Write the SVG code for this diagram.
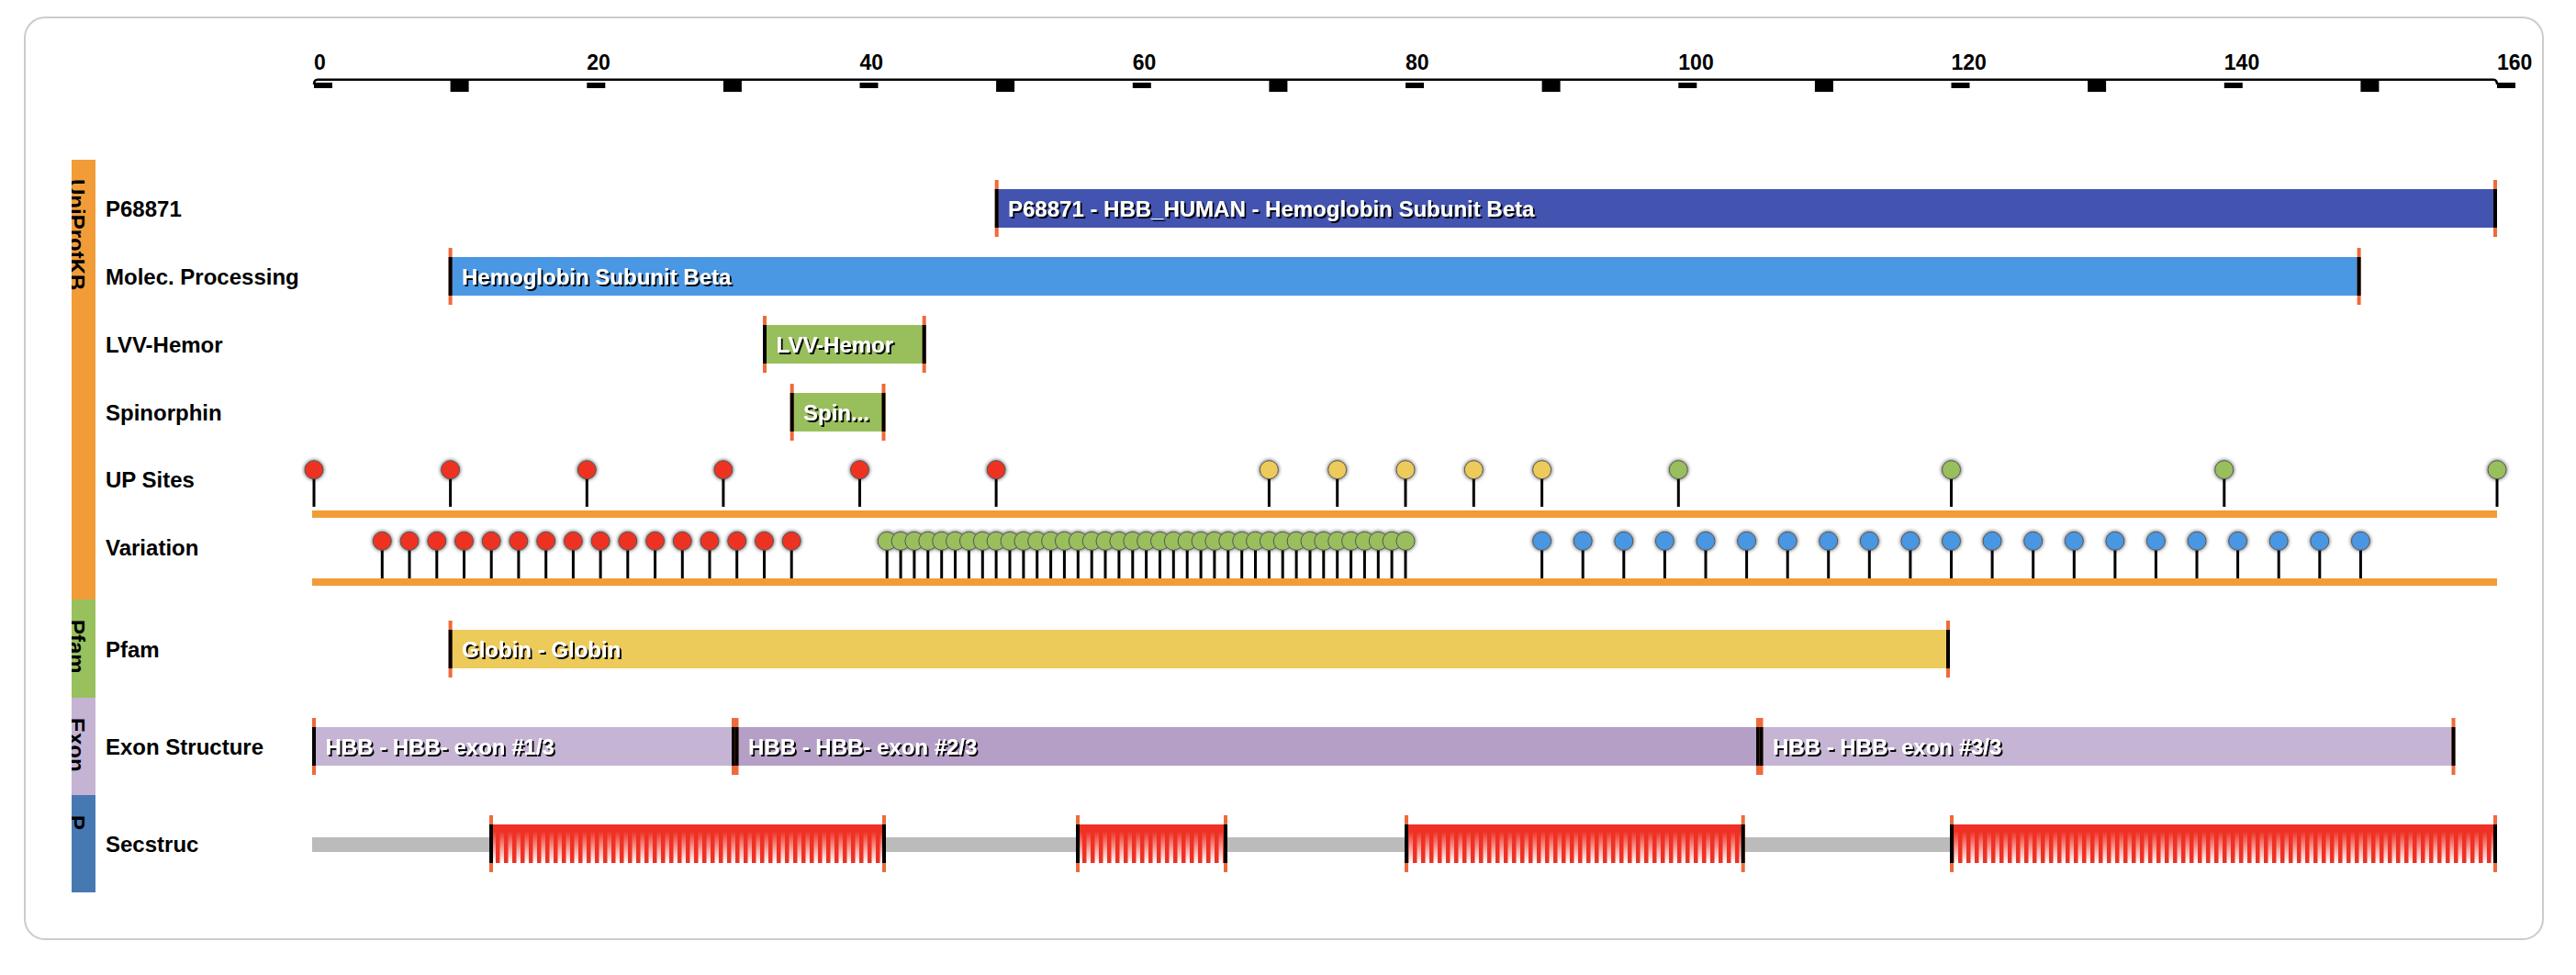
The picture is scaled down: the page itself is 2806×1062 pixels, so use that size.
<svg xmlns="http://www.w3.org/2000/svg" width="2806" height="1062" viewBox="0 0 2806 1062">
<style>
.lbl{font-family:"Liberation Sans",Arial,sans-serif;font-weight:bold;font-size:24px;fill:#000}
.ax{font-family:"Liberation Sans",Arial,sans-serif;font-weight:bold;font-size:23px;fill:#000}
.ft{font-family:"Liberation Sans",Arial,sans-serif;font-weight:bold;font-size:24px;fill:#fff;filter:url(#ts)}
.cat{font-family:"Liberation Sans",Arial,sans-serif;font-weight:bold;font-size:24px;fill:#000}
.edge{stroke:#000;stroke-width:4}
.cap{stroke:#EE6A3A;stroke-width:4}
.stick{stroke:#000;stroke-width:3}
.pin{stroke:#555;stroke-width:1;filter:url(#glow)}
.r{fill:#EE3124}.y{fill:#EDCB5A}.g{fill:#98BF5B}.b{fill:#4A97E3}
.tk{fill:#000}
</style>
<defs>
<filter id="ts" x="-5%" y="-30%" width="110%" height="160%"><feDropShadow dx="2" dy="2" stdDeviation="0.6" flood-color="#000" flood-opacity="0.95"/></filter>
<filter id="glow" x="-50%" y="-50%" width="200%" height="200%"><feDropShadow dx="0" dy="0" stdDeviation="2" flood-color="#000" flood-opacity="0.75"/></filter>
<linearGradient id="hg" x1="0" y1="0" x2="0" y2="1"><stop offset="0" stop-color="#EE3124"/><stop offset="0.18" stop-color="#EE3124"/><stop offset="1" stop-color="#FFFFFF"/></linearGradient>
<pattern id="hp" patternUnits="userSpaceOnUse" x="0" y="898" width="9" height="42"><rect width="9" height="42" fill="url(#hg)"/><rect width="4.5" height="42" fill="#EE3124"/></pattern>
<clipPath id="sb"><rect x="78" y="174" width="26" height="798"/></clipPath>
</defs>
<rect x="27" y="19" width="2743" height="1004" rx="22" fill="#fff" stroke="#ccc" stroke-width="2"/>

<g id="axis">
<path d="M342,92 Q342,86.7 346,86.7 H2716 Q2720,86.7 2720,92" fill="none" stroke="#000" stroke-width="2.5"/>
<rect class="tk" x="342" y="90" width="20" height="6"/>
<rect class="tk" x="490.6" y="87" width="20" height="13"/>
<rect class="tk" x="639.3" y="90" width="20" height="6"/>
<rect class="tk" x="787.9" y="87" width="20" height="13"/>
<rect class="tk" x="936.5" y="90" width="20" height="6"/>
<rect class="tk" x="1085.1" y="87" width="20" height="13"/>
<rect class="tk" x="1233.8" y="90" width="20" height="6"/>
<rect class="tk" x="1382.4" y="87" width="20" height="13"/>
<rect class="tk" x="1531" y="90" width="20" height="6"/>
<rect class="tk" x="1679.6" y="87" width="20" height="13"/>
<rect class="tk" x="1828.3" y="90" width="20" height="6"/>
<rect class="tk" x="1976.9" y="87" width="20" height="13"/>
<rect class="tk" x="2125.5" y="90" width="20" height="6"/>
<rect class="tk" x="2274.1" y="87" width="20" height="13"/>
<rect class="tk" x="2422.8" y="90" width="20" height="6"/>
<rect class="tk" x="2571.4" y="87" width="20" height="13"/>
<rect class="tk" x="2720" y="90" width="20" height="6"/>
<text class="ax" x="342" y="76">0</text>
<text class="ax" x="639.3" y="76">20</text>
<text class="ax" x="936.5" y="76">40</text>
<text class="ax" x="1233.8" y="76">60</text>
<text class="ax" x="1531" y="76">80</text>
<text class="ax" x="1828.3" y="76">100</text>
<text class="ax" x="2125.5" y="76">120</text>
<text class="ax" x="2422.8" y="76">140</text>
<text class="ax" x="2720" y="76">160</text>
</g>

<g id="sidebar">
<rect x="78" y="174" width="26" height="479" fill="#F29C38"/>
<rect x="78" y="653" width="26" height="107" fill="#98C05C"/>
<rect x="78" y="760" width="26" height="106" fill="#C5B3D3"/>
<rect x="78" y="866" width="26" height="106" fill="#4679B2"/>
<g clip-path="url(#sb)">
<text class="cat" transform="translate(75,195) rotate(90)">UniProtKB</text>
<text class="cat" transform="translate(75,675) rotate(90)">Pfam</text>
<text class="cat" transform="translate(75,782) rotate(90)">Exon</text>
<text class="cat" transform="translate(75,888) rotate(90)">P</text>
</g>
</g>

<g id="labels">
<text class="lbl" x="115" y="236">P68871</text>
<text class="lbl" x="115" y="310">Molec. Processing</text>
<text class="lbl" x="115" y="384">LVV-Hemor</text>
<text class="lbl" x="115" y="458">Spinorphin</text>
<text class="lbl" x="115" y="531">UP Sites</text>
<text class="lbl" x="115" y="605">Variation</text>
<text class="lbl" x="115" y="716">Pfam</text>
<text class="lbl" x="115" y="822">Exon Structure</text>
<text class="lbl" x="115" y="928">Secstruc</text>
</g>

<g id="feature-p68871">
<rect x="1085.7" y="206" width="1632.3" height="42" fill="#4254B0"/>
<line class="cap" x1="1085.7" y1="196" x2="1085.7" y2="258"/><line class="edge" x1="1085.7" y1="206" x2="1085.7" y2="248"/>
<line class="cap" x1="2718" y1="196" x2="2718" y2="258"/><line class="edge" x1="2718" y1="206" x2="2718" y2="248"/>
<text class="ft" x="1098" y="235.5">P68871 - HBB_HUMAN - Hemoglobin Subunit Beta</text>
</g>

<g id="feature-molec">
<rect x="490.6" y="280" width="2079" height="42" fill="#4A97E3"/>
<line class="cap" x1="490.6" y1="270" x2="490.6" y2="332"/><line class="edge" x1="490.6" y1="280" x2="490.6" y2="322"/>
<line class="cap" x1="2569.6" y1="270" x2="2569.6" y2="332"/><line class="edge" x1="2569.6" y1="280" x2="2569.6" y2="322"/>
<text class="ft" x="503" y="309.5">Hemoglobin Subunit Beta</text>
</g>

<g id="feature-lvv">
<rect x="833" y="354" width="173.7" height="42" fill="#98BF5B"/>
<line class="cap" x1="833" y1="344" x2="833" y2="406"/><line class="edge" x1="833" y1="354" x2="833" y2="396"/>
<line class="cap" x1="1006.7" y1="344" x2="1006.7" y2="406"/><line class="edge" x1="1006.7" y1="354" x2="1006.7" y2="396"/>
<text class="ft" x="845.5" y="383.5">LVV-Hemor</text>
</g>

<g id="feature-spin">
<rect x="862.7" y="428" width="99.8" height="42" fill="#98BF5B"/>
<line class="cap" x1="862.7" y1="418" x2="862.7" y2="480"/><line class="edge" x1="862.7" y1="428" x2="862.7" y2="470"/>
<line class="cap" x1="962.5" y1="418" x2="962.5" y2="480"/><line class="edge" x1="962.5" y1="428" x2="962.5" y2="470"/>
<text class="ft" x="875" y="457.5">Spin...</text>
</g>

<g id="track-upsites">
<rect x="340" y="556" width="2380" height="8" fill="#F29C38"/>
<g>
<line class="stick" x1="342" y1="512" x2="342" y2="552"/>
<line class="stick" x1="490.6" y1="512" x2="490.6" y2="552"/>
<line class="stick" x1="639.3" y1="512" x2="639.3" y2="552"/>
<line class="stick" x1="787.9" y1="512" x2="787.9" y2="552"/>
<line class="stick" x1="936.5" y1="512" x2="936.5" y2="552"/>
<line class="stick" x1="1085.1" y1="512" x2="1085.1" y2="552"/>
<line class="stick" x1="1382.4" y1="512" x2="1382.4" y2="552"/>
<line class="stick" x1="1456.7" y1="512" x2="1456.7" y2="552"/>
<line class="stick" x1="1531" y1="512" x2="1531" y2="552"/>
<line class="stick" x1="1605.3" y1="512" x2="1605.3" y2="552"/>
<line class="stick" x1="1679.6" y1="512" x2="1679.6" y2="552"/>
<line class="stick" x1="1828.3" y1="512" x2="1828.3" y2="552"/>
<line class="stick" x1="2125.5" y1="512" x2="2125.5" y2="552"/>
<line class="stick" x1="2422.8" y1="512" x2="2422.8" y2="552"/>
<line class="stick" x1="2720" y1="512" x2="2720" y2="552"/>
</g>
<g class="pin">
<circle class="r" cx="342" cy="511.7" r="10"/>
<circle class="r" cx="490.6" cy="511.7" r="10"/>
<circle class="r" cx="639.3" cy="511.7" r="10"/>
<circle class="r" cx="787.9" cy="511.7" r="10"/>
<circle class="r" cx="936.5" cy="511.7" r="10"/>
<circle class="r" cx="1085.1" cy="511.7" r="10"/>
<circle class="y" cx="1382.4" cy="511.7" r="10"/>
<circle class="y" cx="1456.7" cy="511.7" r="10"/>
<circle class="y" cx="1531" cy="511.7" r="10"/>
<circle class="y" cx="1605.3" cy="511.7" r="10"/>
<circle class="y" cx="1679.6" cy="511.7" r="10"/>
<circle class="g" cx="1828.3" cy="511.7" r="10"/>
<circle class="g" cx="2125.5" cy="511.7" r="10"/>
<circle class="g" cx="2422.8" cy="511.7" r="10"/>
<circle class="g" cx="2720" cy="511.7" r="10"/>
</g>
</g>

<g id="track-variation">
<rect x="340" y="630" width="2380" height="8" fill="#F29C38"/>
<g stroke="#000" stroke-width="3">
<path d="M416.3,590V630M446,590V630M475.8,590V630M505.5,590V630M535.2,590V630M564.9,590V630M594.7,590V630M624.4,590V630M654.1,590V630M683.8,590V630M713.6,590V630M743.3,590V630M773,590V630M802.7,590V630M832.5,590V630M862.2,590V630"/>
<path d="M966.2,590V630M981.1,590V630M995.9,590V630M1010.8,590V630M1025.7,590V630M1040.5,590V630M1055.4,590V630M1070.3,590V630M1085.1,590V630M1100,590V630M1114.9,590V630M1129.7,590V630M1144.6,590V630M1159.4,590V630M1174.3,590V630M1189.2,590V630M1204,590V630M1218.9,590V630M1233.8,590V630M1248.6,590V630M1263.5,590V630M1278.3,590V630M1293.2,590V630M1308.1,590V630M1322.9,590V630M1337.8,590V630M1352.7,590V630M1367.5,590V630M1382.4,590V630M1397.2,590V630M1412.1,590V630M1427,590V630M1441.8,590V630M1456.7,590V630M1471.6,590V630M1486.4,590V630M1501.3,590V630M1516.1,590V630M1531,590V630"/>
<path d="M1679.6,590V630M1724.2,590V630M1768.8,590V630M1813.4,590V630M1858,590V630M1902.6,590V630M1947.2,590V630M1991.7,590V630M2036.3,590V630M2080.9,590V630M2125.5,590V630M2170.1,590V630M2214.7,590V630M2259.3,590V630M2303.9,590V630M2348.4,590V630M2393,590V630M2437.6,590V630M2482.2,590V630M2526.8,590V630M2571.4,590V630"/>
</g>
<g class="pin">
<circle class="r" cx="416.3" cy="589.3" r="10"/><circle class="r" cx="446" cy="589.3" r="10"/><circle class="r" cx="475.8" cy="589.3" r="10"/><circle class="r" cx="505.5" cy="589.3" r="10"/><circle class="r" cx="535.2" cy="589.3" r="10"/><circle class="r" cx="564.9" cy="589.3" r="10"/><circle class="r" cx="594.7" cy="589.3" r="10"/><circle class="r" cx="624.4" cy="589.3" r="10"/><circle class="r" cx="654.1" cy="589.3" r="10"/><circle class="r" cx="683.8" cy="589.3" r="10"/><circle class="r" cx="713.6" cy="589.3" r="10"/><circle class="r" cx="743.3" cy="589.3" r="10"/><circle class="r" cx="773" cy="589.3" r="10"/><circle class="r" cx="802.7" cy="589.3" r="10"/><circle class="r" cx="832.5" cy="589.3" r="10"/><circle class="r" cx="862.2" cy="589.3" r="10"/>
<circle class="g" cx="966.2" cy="589.3" r="10"/><circle class="g" cx="981.1" cy="589.3" r="10"/><circle class="g" cx="995.9" cy="589.3" r="10"/><circle class="g" cx="1010.8" cy="589.3" r="10"/><circle class="g" cx="1025.7" cy="589.3" r="10"/><circle class="g" cx="1040.5" cy="589.3" r="10"/><circle class="g" cx="1055.4" cy="589.3" r="10"/><circle class="g" cx="1070.3" cy="589.3" r="10"/><circle class="g" cx="1085.1" cy="589.3" r="10"/><circle class="g" cx="1100" cy="589.3" r="10"/><circle class="g" cx="1114.9" cy="589.3" r="10"/><circle class="g" cx="1129.7" cy="589.3" r="10"/><circle class="g" cx="1144.6" cy="589.3" r="10"/><circle class="g" cx="1159.4" cy="589.3" r="10"/><circle class="g" cx="1174.3" cy="589.3" r="10"/><circle class="g" cx="1189.2" cy="589.3" r="10"/><circle class="g" cx="1204" cy="589.3" r="10"/><circle class="g" cx="1218.9" cy="589.3" r="10"/><circle class="g" cx="1233.8" cy="589.3" r="10"/><circle class="g" cx="1248.6" cy="589.3" r="10"/><circle class="g" cx="1263.5" cy="589.3" r="10"/><circle class="g" cx="1278.3" cy="589.3" r="10"/><circle class="g" cx="1293.2" cy="589.3" r="10"/><circle class="g" cx="1308.1" cy="589.3" r="10"/><circle class="g" cx="1322.9" cy="589.3" r="10"/><circle class="g" cx="1337.8" cy="589.3" r="10"/><circle class="g" cx="1352.7" cy="589.3" r="10"/><circle class="g" cx="1367.5" cy="589.3" r="10"/><circle class="g" cx="1382.4" cy="589.3" r="10"/><circle class="g" cx="1397.2" cy="589.3" r="10"/><circle class="g" cx="1412.1" cy="589.3" r="10"/><circle class="g" cx="1427" cy="589.3" r="10"/><circle class="g" cx="1441.8" cy="589.3" r="10"/><circle class="g" cx="1456.7" cy="589.3" r="10"/><circle class="g" cx="1471.6" cy="589.3" r="10"/><circle class="g" cx="1486.4" cy="589.3" r="10"/><circle class="g" cx="1501.3" cy="589.3" r="10"/><circle class="g" cx="1516.1" cy="589.3" r="10"/><circle class="g" cx="1531" cy="589.3" r="10"/>
<circle class="b" cx="1679.6" cy="589.3" r="10"/><circle class="b" cx="1724.2" cy="589.3" r="10"/><circle class="b" cx="1768.8" cy="589.3" r="10"/><circle class="b" cx="1813.4" cy="589.3" r="10"/><circle class="b" cx="1858" cy="589.3" r="10"/><circle class="b" cx="1902.6" cy="589.3" r="10"/><circle class="b" cx="1947.2" cy="589.3" r="10"/><circle class="b" cx="1991.7" cy="589.3" r="10"/><circle class="b" cx="2036.3" cy="589.3" r="10"/><circle class="b" cx="2080.9" cy="589.3" r="10"/><circle class="b" cx="2125.5" cy="589.3" r="10"/><circle class="b" cx="2170.1" cy="589.3" r="10"/><circle class="b" cx="2214.7" cy="589.3" r="10"/><circle class="b" cx="2259.3" cy="589.3" r="10"/><circle class="b" cx="2303.9" cy="589.3" r="10"/><circle class="b" cx="2348.4" cy="589.3" r="10"/><circle class="b" cx="2393" cy="589.3" r="10"/><circle class="b" cx="2437.6" cy="589.3" r="10"/><circle class="b" cx="2482.2" cy="589.3" r="10"/><circle class="b" cx="2526.8" cy="589.3" r="10"/><circle class="b" cx="2571.4" cy="589.3" r="10"/>
</g>
</g>

<g id="feature-pfam">
<rect x="490.6" y="686" width="1631.4" height="42" fill="#ECCB5B"/>
<line class="cap" x1="490.6" y1="676" x2="490.6" y2="738"/><line class="edge" x1="490.6" y1="686" x2="490.6" y2="728"/>
<line class="cap" x1="2122" y1="676" x2="2122" y2="738"/><line class="edge" x1="2122" y1="686" x2="2122" y2="728"/>
<text class="ft" x="503" y="715.5">Globin - Globin</text>
</g>

<g id="feature-exon1">
<rect x="342" y="792" width="457" height="42" fill="#C5B4D4"/>
<line class="cap" x1="342" y1="782" x2="342" y2="844"/><line class="edge" x1="342" y1="792" x2="342" y2="834"/>
<line class="cap" x1="799" y1="782" x2="799" y2="844"/><line class="edge" x1="799" y1="792" x2="799" y2="834"/>
<text class="ft" x="354.5" y="821.5">HBB - HBB- exon #1/3</text>
</g>
<g id="feature-exon2">
<rect x="802.5" y="792" width="1112.5" height="42" fill="#B59FC7"/>
<line class="cap" x1="802.5" y1="782" x2="802.5" y2="844"/><line class="edge" x1="802.5" y1="792" x2="802.5" y2="834"/>
<line class="cap" x1="1915" y1="782" x2="1915" y2="844"/><line class="edge" x1="1915" y1="792" x2="1915" y2="834"/>
<text class="ft" x="815" y="821.5">HBB - HBB- exon #2/3</text>
</g>
<g id="feature-exon3">
<rect x="1918.5" y="792" width="754" height="42" fill="#C5B4D4"/>
<line class="cap" x1="1918.5" y1="782" x2="1918.5" y2="844"/><line class="edge" x1="1918.5" y1="792" x2="1918.5" y2="834"/>
<line class="cap" x1="2672.5" y1="782" x2="2672.5" y2="844"/><line class="edge" x1="2672.5" y1="792" x2="2672.5" y2="834"/>
<text class="ft" x="1931" y="821.5">HBB - HBB- exon #3/3</text>
</g>

<g id="track-secstruc">
<rect x="340" y="912" width="2380" height="16" fill="#BBBBBB"/>
<g id="helix1">
<rect x="535" y="898" width="428" height="42" fill="url(#hp)"/>
<line class="cap" x1="535" y1="888" x2="535" y2="950"/><line class="edge" x1="535" y1="898" x2="535" y2="940"/>
<line class="cap" x1="963" y1="888" x2="963" y2="950"/><line class="edge" x1="963" y1="898" x2="963" y2="940"/>
</g>
<g id="helix2">
<rect x="1174" y="898" width="161" height="42" fill="url(#hp)"/>
<line class="cap" x1="1174" y1="888" x2="1174" y2="950"/><line class="edge" x1="1174" y1="898" x2="1174" y2="940"/>
<line class="cap" x1="1335" y1="888" x2="1335" y2="950"/><line class="edge" x1="1335" y1="898" x2="1335" y2="940"/>
</g>
<g id="helix3">
<rect x="1532" y="898" width="366.7" height="42" fill="url(#hp)"/>
<line class="cap" x1="1532" y1="888" x2="1532" y2="950"/><line class="edge" x1="1532" y1="898" x2="1532" y2="940"/>
<line class="cap" x1="1898.7" y1="888" x2="1898.7" y2="950"/><line class="edge" x1="1898.7" y1="898" x2="1898.7" y2="940"/>
</g>
<g id="helix4">
<rect x="2126" y="898" width="592" height="42" fill="url(#hp)"/>
<line class="cap" x1="2126" y1="888" x2="2126" y2="950"/><line class="edge" x1="2126" y1="898" x2="2126" y2="940"/>
<line class="cap" x1="2718" y1="888" x2="2718" y2="950"/><line class="edge" x1="2718" y1="898" x2="2718" y2="940"/>
</g>
</g>
<g id="connectors"></g>
</svg>
